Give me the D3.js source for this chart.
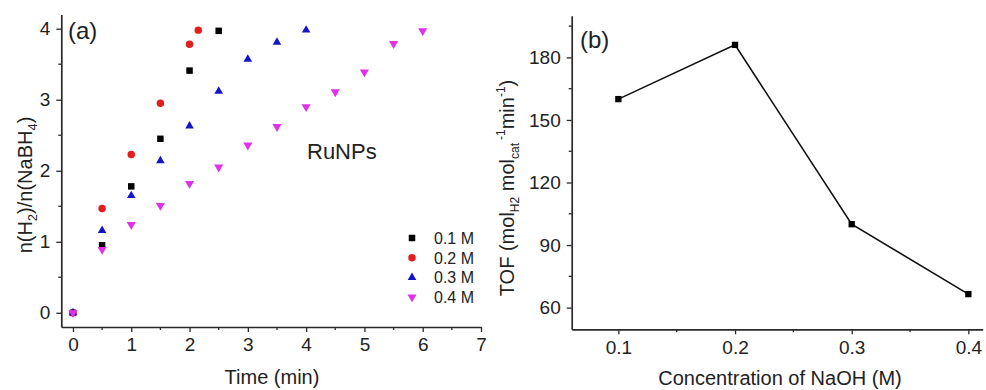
<!DOCTYPE html>
<html><head><meta charset="utf-8">
<script src="https://cdn.jsdelivr.net/npm/d3@7"></script>
<style>
body{margin:0;background:#fff;}
text{font-family:"Liberation Sans",Arial,sans-serif;fill:#222;}
</style></head>
<body><svg id="c" width="986" height="390"></svg>
<script>
// ---- Panel (a) data ----
const seriesNames = ["0.1 M","0.2 M","0.3 M","0.4 M"];
const time01 = [0,0.5,1,1.5,2,2.5];
const ratio01 = [0,0.95,1.78,2.45,3.41,3.97];
const time02 = [0,0.5,1,1.5,2,2.15];
const ratio02 = [0,1.47,2.23,2.95,3.78,3.98];
const time03 = [0,0.5,1,1.5,2,2.5,3,3.5,4];
const ratio03 = [0,1.16,1.65,2.14,2.63,3.12,3.57,3.81,3.98];
const time04 = [0,0.5,1,1.5,2,2.5,3,3.5,4,4.5,5,5.5,6];
const ratio04 = [0,0.89,1.24,1.51,1.82,2.05,2.36,2.62,2.90,3.11,3.39,3.79,3.97];
const xTicksA = [0,1,2,3,4,5,6,7];
const yTicksA = [0,1,2,3,4];
// ---- Panel (b) data ----
const naoh = [0.1,0.2,0.3,0.4];
const tof = [160,186,100,66.5];
const xTicksB = [0.1,0.2,0.3,0.4];
const yTicksB = [60,90,120,150,180];

const svg = d3.select("#c");
const axisColor = "#2a2a2a";
const colors = ["#000000","#e41e1e","#1414c8","#e030e8"];

function styleAxis(g){
  g.select(".domain").attr("stroke",axisColor).attr("stroke-width",1.7);
  g.selectAll(".tick line").attr("stroke",axisColor).attr("stroke-width",1.3);
  g.selectAll(".tick text").attr("fill","#222").style("font-size","19px").style("font-family",'"Liberation Sans",Arial,sans-serif');
}
function minorTicks(g, scale, vals, orient){
  vals.forEach(v=>{
    const p = scale(v);
    if(orient==="bottom") g.append("line").attr("x1",p).attr("x2",p).attr("y1",0).attr("y2",3).attr("stroke",axisColor).attr("stroke-width",1.3);
    else g.append("line").attr("y1",p).attr("y2",p).attr("x1",0).attr("x2",-3).attr("stroke",axisColor).attr("stroke-width",1.3);
  });
}

// ---------- Panel (a) ----------
const xA = d3.scaleLinear().domain([-0.2,7]).range([61.3,481]);
const yA = d3.scaleLinear().domain([-0.2,4.2]).range([327,14.5]);

const gxA = svg.append("g").attr("transform",`translate(0,${yA.range()[0]})`)
  .call(d3.axisBottom(xA).tickValues(xTicksA).tickSize(5).tickSizeOuter(0).tickPadding(6).tickFormat(d3.format("d")));
styleAxis(gxA);
minorTicks(gxA,xA,d3.range(0.5,7,1),"bottom");
const gyA = svg.append("g").attr("transform",`translate(${xA.range()[0]},0)`)
  .call(d3.axisLeft(yA).tickValues(yTicksA).tickSize(5).tickSizeOuter(0).tickPadding(6).tickFormat(d3.format("d")));
styleAxis(gyA);
minorTicks(gyA,yA,[0.5,1.5,2.5,3.5],"left");

const seriesA = [[time01,ratio01],[time02,ratio02],[time03,ratio03],[time04,ratio04]];
const symTypes = [d3.symbolSquare,d3.symbolCircle,d3.symbolTriangle,d3.symbolTriangle];
const symSizes = [42,44,32,36];
const symRot = [0,0,0,180];
function drawSym(g,i,x,y){
  g.append("path").attr("d",d3.symbol().type(symTypes[i]).size(symSizes[i])())
   .attr("transform",`translate(${x},${y}) rotate(${symRot[i]})`).attr("fill",colors[i]);
}
seriesA.forEach((s,i)=>{
  const g = svg.append("g");
  s[0].forEach((t,j)=> drawSym(g,i,xA(t),yA(s[1][j])));
});

// legend
const leg = svg.append("g");
seriesNames.forEach((n,i)=>{
  const y = 238 + i*19.7;
  drawSym(leg,i,412,y);
  leg.append("text").attr("x",434).attr("y",y+6).style("font-size","16px").text(n);
});
svg.append("text").attr("x",68).attr("y",39).style("font-size","24px").text("(a)");
svg.append("text").attr("x",307).attr("y",159).style("font-size","22px").text("RuNPs");
svg.append("text").attr("x",272).attr("y",384).attr("text-anchor","middle").style("font-size","20px").text("Time (min)");
const ylA = svg.append("text").attr("transform","translate(32,185) rotate(-90)").attr("text-anchor","middle").style("font-size","20px");
ylA.append("tspan").text("n(H");
ylA.append("tspan").attr("dy",5).style("font-size","13px").text("2");
ylA.append("tspan").attr("dy",-5).text(")/n(NaBH");
ylA.append("tspan").attr("dy",5).style("font-size","13px").text("4");
ylA.append("tspan").attr("dy",-5).text(")");

// ---------- Panel (b) ----------
const xB = d3.scaleLinear().domain([0.06,0.4123]).range([571.7,982.7]);
const yB = d3.scaleLinear().domain([49.6,200]).range([329.3,15.7]);
const gxB = svg.append("g").attr("transform",`translate(0,${yB.range()[0]})`)
  .call(d3.axisBottom(xB).tickValues(xTicksB).tickSize(5).tickSizeOuter(0).tickPadding(6).tickFormat(d3.format(".1f")));
styleAxis(gxB);
minorTicks(gxB,xB,[0.15,0.25,0.35],"bottom");
const gyB = svg.append("g").attr("transform",`translate(${xB.range()[0]},0)`)
  .call(d3.axisLeft(yB).tickValues(yTicksB).tickSize(5).tickSizeOuter(0).tickPadding(6).tickFormat(d3.format("d")));
styleAxis(gyB);
minorTicks(gyB,yB,[75,105,135,165,195],"left");

svg.append("path").datum(naoh.map((c,i)=>[c,tof[i]]))
  .attr("d",d3.line().x(d=>xB(d[0])).y(d=>yB(d[1])))
  .attr("fill","none").attr("stroke","#111").attr("stroke-width",1.6);
naoh.forEach((c,i)=>{
  svg.append("path").attr("d",d3.symbol().type(d3.symbolSquare).size(40)())
    .attr("transform",`translate(${xB(c)},${yB(tof[i])})`).attr("fill","#000");
});
svg.append("text").attr("x",580).attr("y",48).style("font-size","24px").text("(b)");
svg.append("text").attr("x",780).attr("y",385).attr("text-anchor","middle").style("font-size","20px").text("Concentration of NaOH (M)");
const ylB = svg.append("text").attr("transform","translate(514,188) rotate(-90)").attr("text-anchor","middle").style("font-size","20px");
ylB.append("tspan").text("TOF (mol");
ylB.append("tspan").attr("dy",5).style("font-size","12px").text("H2");
ylB.append("tspan").attr("dy",-5).text(" mol");
ylB.append("tspan").attr("dy",5).style("font-size","12px").text("cat");
ylB.append("tspan").attr("dy",-14).attr("dx",3).style("font-size","12px").text("-1");
ylB.append("tspan").attr("dy",9).text("min");
ylB.append("tspan").attr("dy",-9).style("font-size","12px").text("-1");
ylB.append("tspan").attr("dy",9).text(")");
</script></body></html>
